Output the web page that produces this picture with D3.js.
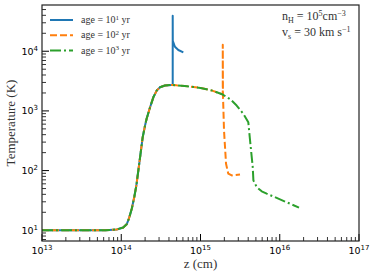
<!DOCTYPE html>
<html>
<head>
<meta charset="utf-8">
<script src="https://cdn.jsdelivr.net/npm/d3@7"></script>
<style>
  body { margin: 0; background: #fff; }
  svg { display: block; }
</style>
</head>
<body>
<div id="container"></div>
<script>
// values (z in cm, T in K)
const ages = ['10', '10', '10'];
const ageExp = ['1', '2', '3'];
const colors = ['#1f77b4', '#ff7f0e', '#2ca02c'];

const age1Z = [1e13, 6.31e13, 8.77e13, 1.06e14, 1.17e14, 1.25e14, 1.36e14, 1.46e14, 1.55e14, 1.70e14, 1.86e14, 2.0e14,
  2.09e14, 2.31e14, 2.54e14, 2.80e14, 3.08e14, 3.56e14, 4.34e14, 4.46e14, 4.46e14, 4.47e14, 4.76e14, 5.25e14, 6.07e14];
const age1T = [10, 10, 10.3, 11.1, 12.6, 15.7, 23.1, 36.1, 56, 141, 355, 575,
  738, 1150, 1690, 2190, 2490, 2660, 2730, 2740, 39400, 15000, 11900, 10500, 9600];

const age2Z = [1e13, 6.31e13, 8.77e13, 1.06e14, 1.17e14, 1.25e14, 1.36e14, 1.46e14, 1.55e14, 1.70e14, 1.86e14, 2.0e14,
  2.09e14, 2.31e14, 2.54e14, 2.80e14, 3.08e14, 3.56e14, 4.34e14, 5.0e14, 6.31e14, 1e15, 1.41e15, 1.91e15, 1.91e15, 1.92e15,
  1.98e15, 2.10e15, 2.24e15, 2.48e15, 3.15e15];
const age2T = [10, 10, 10.3, 11.1, 12.6, 15.7, 23.1, 36.1, 56, 141, 355, 575,
  738, 1150, 1690, 2190, 2490, 2660, 2730, 2680, 2620, 2430, 2190, 1880, 12900, 1900,
  470, 130, 89, 83, 86];

const age3Z = [1e13, 6.31e13, 8.77e13, 1.06e14, 1.17e14, 1.25e14, 1.36e14, 1.46e14, 1.55e14, 1.70e14, 1.86e14, 2.0e14,
  2.09e14, 2.31e14, 2.54e14, 2.80e14, 3.08e14, 3.56e14, 4.34e14, 5.0e14, 6.31e14, 1e15, 1.41e15, 1.91e15, 2.40e15, 2.86e15,
  3.47e15, 4.01e15, 4.22e15, 4.56e15, 4.65e15, 5.12e15, 5.92e15, 6.84e15, 1.75e16];
const age3T = [10, 10, 10.3, 11.1, 12.6, 15.7, 23.1, 36.1, 56, 141, 355, 575,
  738, 1150, 1690, 2190, 2490, 2660, 2730, 2680, 2620, 2430, 2190, 1880, 1550, 1230,
  893, 647, 320, 115, 68.5, 53, 44.9, 41.1, 24];

const seriesZ = [age1Z, age2Z, age3Z];
const seriesT = [age1T, age2T, age3T];
const dashes = [null, '7,3', '11,3,2,3'];

const xTickExp = [13, 14, 15, 16, 17];
const yTickExp = [1, 2, 3, 4];

const width = 374, height = 277;
const margin = { top: 5, right: 15, bottom: 36, left: 42 };
const w = width - margin.left - margin.right;
const h = height - margin.top - margin.bottom;

const svg = d3.select('#container').append('svg')
  .attr('width', width).attr('height', height);
const g = svg.append('g').attr('transform', `translate(${margin.left},${margin.top})`);

const xScale = d3.scaleLog().domain([1e13, 1e17]).range([0, w]);
const yScale = d3.scaleLog().domain([Math.pow(10, 0.82), Math.pow(10, 4.775)]).range([h, 0]);

// minor ticks
const xMinor = [], yMinor = [];
for (let e = 13; e < 17; e++) for (let m = 2; m <= 9; m++) xMinor.push(m * Math.pow(10, e));
for (let e = 0; e < 5; e++) for (let m = 2; m <= 9; m++) {
  const v = m * Math.pow(10, e);
  if (v >= yScale.domain()[0] && v <= yScale.domain()[1]) yMinor.push(v);
}

g.append('g').selectAll('line').data(xMinor).join('line')
  .attr('x1', d => xScale(d)).attr('x2', d => xScale(d))
  .attr('y1', h).attr('y2', h - 4).attr('stroke', '#000').attr('stroke-width', 0.8);
g.append('g').selectAll('line').data(xTickExp).join('line')
  .attr('x1', d => xScale(Math.pow(10, d))).attr('x2', d => xScale(Math.pow(10, d)))
  .attr('y1', h).attr('y2', h - 7).attr('stroke', '#000').attr('stroke-width', 1);
g.append('g').selectAll('line').data(yMinor).join('line')
  .attr('y1', d => yScale(d)).attr('y2', d => yScale(d))
  .attr('x1', 0).attr('x2', 4).attr('stroke', '#000').attr('stroke-width', 0.8);
g.append('g').selectAll('line').data(yTickExp).join('line')
  .attr('y1', d => yScale(Math.pow(10, d))).attr('y2', d => yScale(Math.pow(10, d)))
  .attr('x1', 0).attr('x2', 7).attr('stroke', '#000').attr('stroke-width', 1);

// tick labels
const tickFont = 'DejaVu Sans, sans-serif';
const xl = g.append('g').selectAll('text').data(xTickExp).join('text')
  .attr('x', d => xScale(Math.pow(10, d)))
  .attr('y', h + 13)
  .attr('text-anchor', 'middle')
  .attr('font-family', tickFont).attr('font-size', 9.5).attr('fill', '#000');
xl.append('tspan').text('10');
xl.append('tspan').attr('dy', -4).attr('font-size', 7).text(d => d);

const yl = g.append('g').selectAll('text').data(yTickExp).join('text')
  .attr('x', -4)
  .attr('y', d => yScale(Math.pow(10, d)) + 3.5)
  .attr('text-anchor', 'end')
  .attr('font-family', tickFont).attr('font-size', 9.5).attr('fill', '#000');
yl.append('tspan').text('10');
yl.append('tspan').attr('dy', -4).attr('font-size', 7).text(d => d);

// curves
const line = d3.line()
  .x(d => xScale(d[0]))
  .y(d => yScale(d[1]));

svg.append('clipPath').attr('id', 'clip')
  .append('rect').attr('width', w).attr('height', h);

seriesZ.forEach((zs, i) => {
  const pts = zs.map((z, k) => [z, seriesT[i][k]]);
  g.append('path')
    .datum(pts)
    .attr('clip-path', 'url(#clip)')
    .attr('fill', 'none')
    .attr('stroke', colors[i])
    .attr('stroke-width', 2)
    .attr('stroke-linejoin', 'round')
    .attr('stroke-dasharray', dashes[i])
    .attr('d', line);
});

// frame
g.append('rect').attr('width', w).attr('height', h)
  .attr('fill', 'none').attr('stroke', '#222').attr('stroke-width', 1.2);

// axis labels
const serif = 'Liberation Serif, Times New Roman, serif';
svg.append('text')
  .attr('x', margin.left + w / 2).attr('y', 268)
  .attr('text-anchor', 'middle')
  .attr('font-family', serif).attr('font-size', 13).attr('fill', '#333')
  .text('z (cm)');
svg.append('text')
  .attr('transform', `translate(15,${margin.top + h / 2}) rotate(-90)`)
  .attr('text-anchor', 'middle')
  .attr('font-family', serif).attr('font-size', 13).attr('fill', '#333')
  .text('Temperature (K)');

// legend
const legend = svg.append('g');
ages.forEach((a, i) => {
  const y = 20 + i * 15.3;
  legend.append('line')
    .attr('x1', 50).attr('x2', 73).attr('y1', y).attr('y2', y)
    .attr('stroke', colors[i]).attr('stroke-width', 2)
    .attr('stroke-dasharray', dashes[i]);
  const t = legend.append('text')
    .attr('x', 81).attr('y', y + 3)
    .attr('font-family', serif).attr('font-size', 10).attr('fill', '#333');
  t.append('tspan').text('age = ' + a);
  t.append('tspan').attr('dy', -3.5).attr('font-size', 7).text(ageExp[i]);
  t.append('tspan').attr('dy', 3.5).text(' yr');
});

// annotation
const ann = svg.append('g').attr('font-family', serif).attr('font-size', 12).attr('fill', '#333');
const a1 = ann.append('text').attr('x', 282).attr('y', 20);
a1.append('tspan').text('n');
a1.append('tspan').attr('dy', 2.5).attr('font-size', 8).text('H');
a1.append('tspan').attr('dy', -2.5).text(' = 10');
a1.append('tspan').attr('dy', -4).attr('font-size', 8).text('5');
a1.append('tspan').attr('dy', 4).text('cm');
a1.append('tspan').attr('dy', -4).attr('font-size', 8).text('\u22123');
const a2 = ann.append('text').attr('x', 282).attr('y', 36);
a2.append('tspan').text('v');
a2.append('tspan').attr('dy', 2.5).attr('font-size', 8).text('s');
a2.append('tspan').attr('dy', -2.5).text(' = 30 km s');
a2.append('tspan').attr('dy', -4).attr('font-size', 8).text('\u22121');
</script>
</body>
</html>
